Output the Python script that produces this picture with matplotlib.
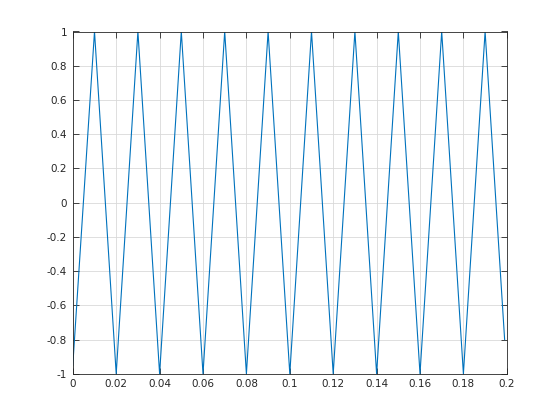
import matplotlib
matplotlib.use('Agg')
import matplotlib.pyplot as plt
import numpy as np

# vertices of the triangle wave (peaks / troughs)
t_vertex = [0.0, 0.01, 0.02, 0.03, 0.04, 0.05, 0.06, 0.07, 0.08, 0.09, 0.10,
            0.11, 0.12, 0.13, 0.14, 0.15, 0.16, 0.17, 0.18, 0.19, 0.199]
y_vertex = [-0.95, 1, -1, 1, -1, 1, -1, 1, -1, 1, -1,
            1, -1, 1, -1, 1, -1, 1, -1, 1, -0.8]

x_ticks = [0, 0.02, 0.04, 0.06, 0.08, 0.1, 0.12, 0.14, 0.16, 0.18, 0.2]
x_labels = ['0', '0.02', '0.04', '0.06', '0.08', '0.1', '0.12', '0.14', '0.16', '0.18', '0.2']
y_ticks = [-1, -0.8, -0.6, -0.4, -0.2, 0, 0.2, 0.4, 0.6, 0.8, 1]
y_labels = ['-1', '-0.8', '-0.6', '-0.4', '-0.2', '0', '0.2', '0.4', '0.6', '0.8', '1']

dark = (0.15, 0.15, 0.15)

fig = plt.figure(figsize=(5.6, 4.2), dpi=100)
ax = fig.add_axes([0.13, 0.11, 0.775, 0.815])
ax.plot(t_vertex, y_vertex, color='#0072BD', linewidth=0.8)

ax.set_xlim(0, 0.2)
ax.set_ylim(-1, 1)
ax.set_xticks(x_ticks)
ax.set_xticklabels(x_labels)
ax.set_yticks(y_ticks)
ax.set_yticklabels(y_labels)
ax.tick_params(direction='in', length=4, width=0.6, top=True, right=True,
               labelsize=7.5, colors=dark, pad=4)
for s in ax.spines.values():
    s.set_color(dark)
    s.set_linewidth(0.6)
ax.grid(True, color=(0.85, 0.85, 0.85), linewidth=0.6)
ax.set_axisbelow(True)

fig.savefig('out.png', dpi=100)
